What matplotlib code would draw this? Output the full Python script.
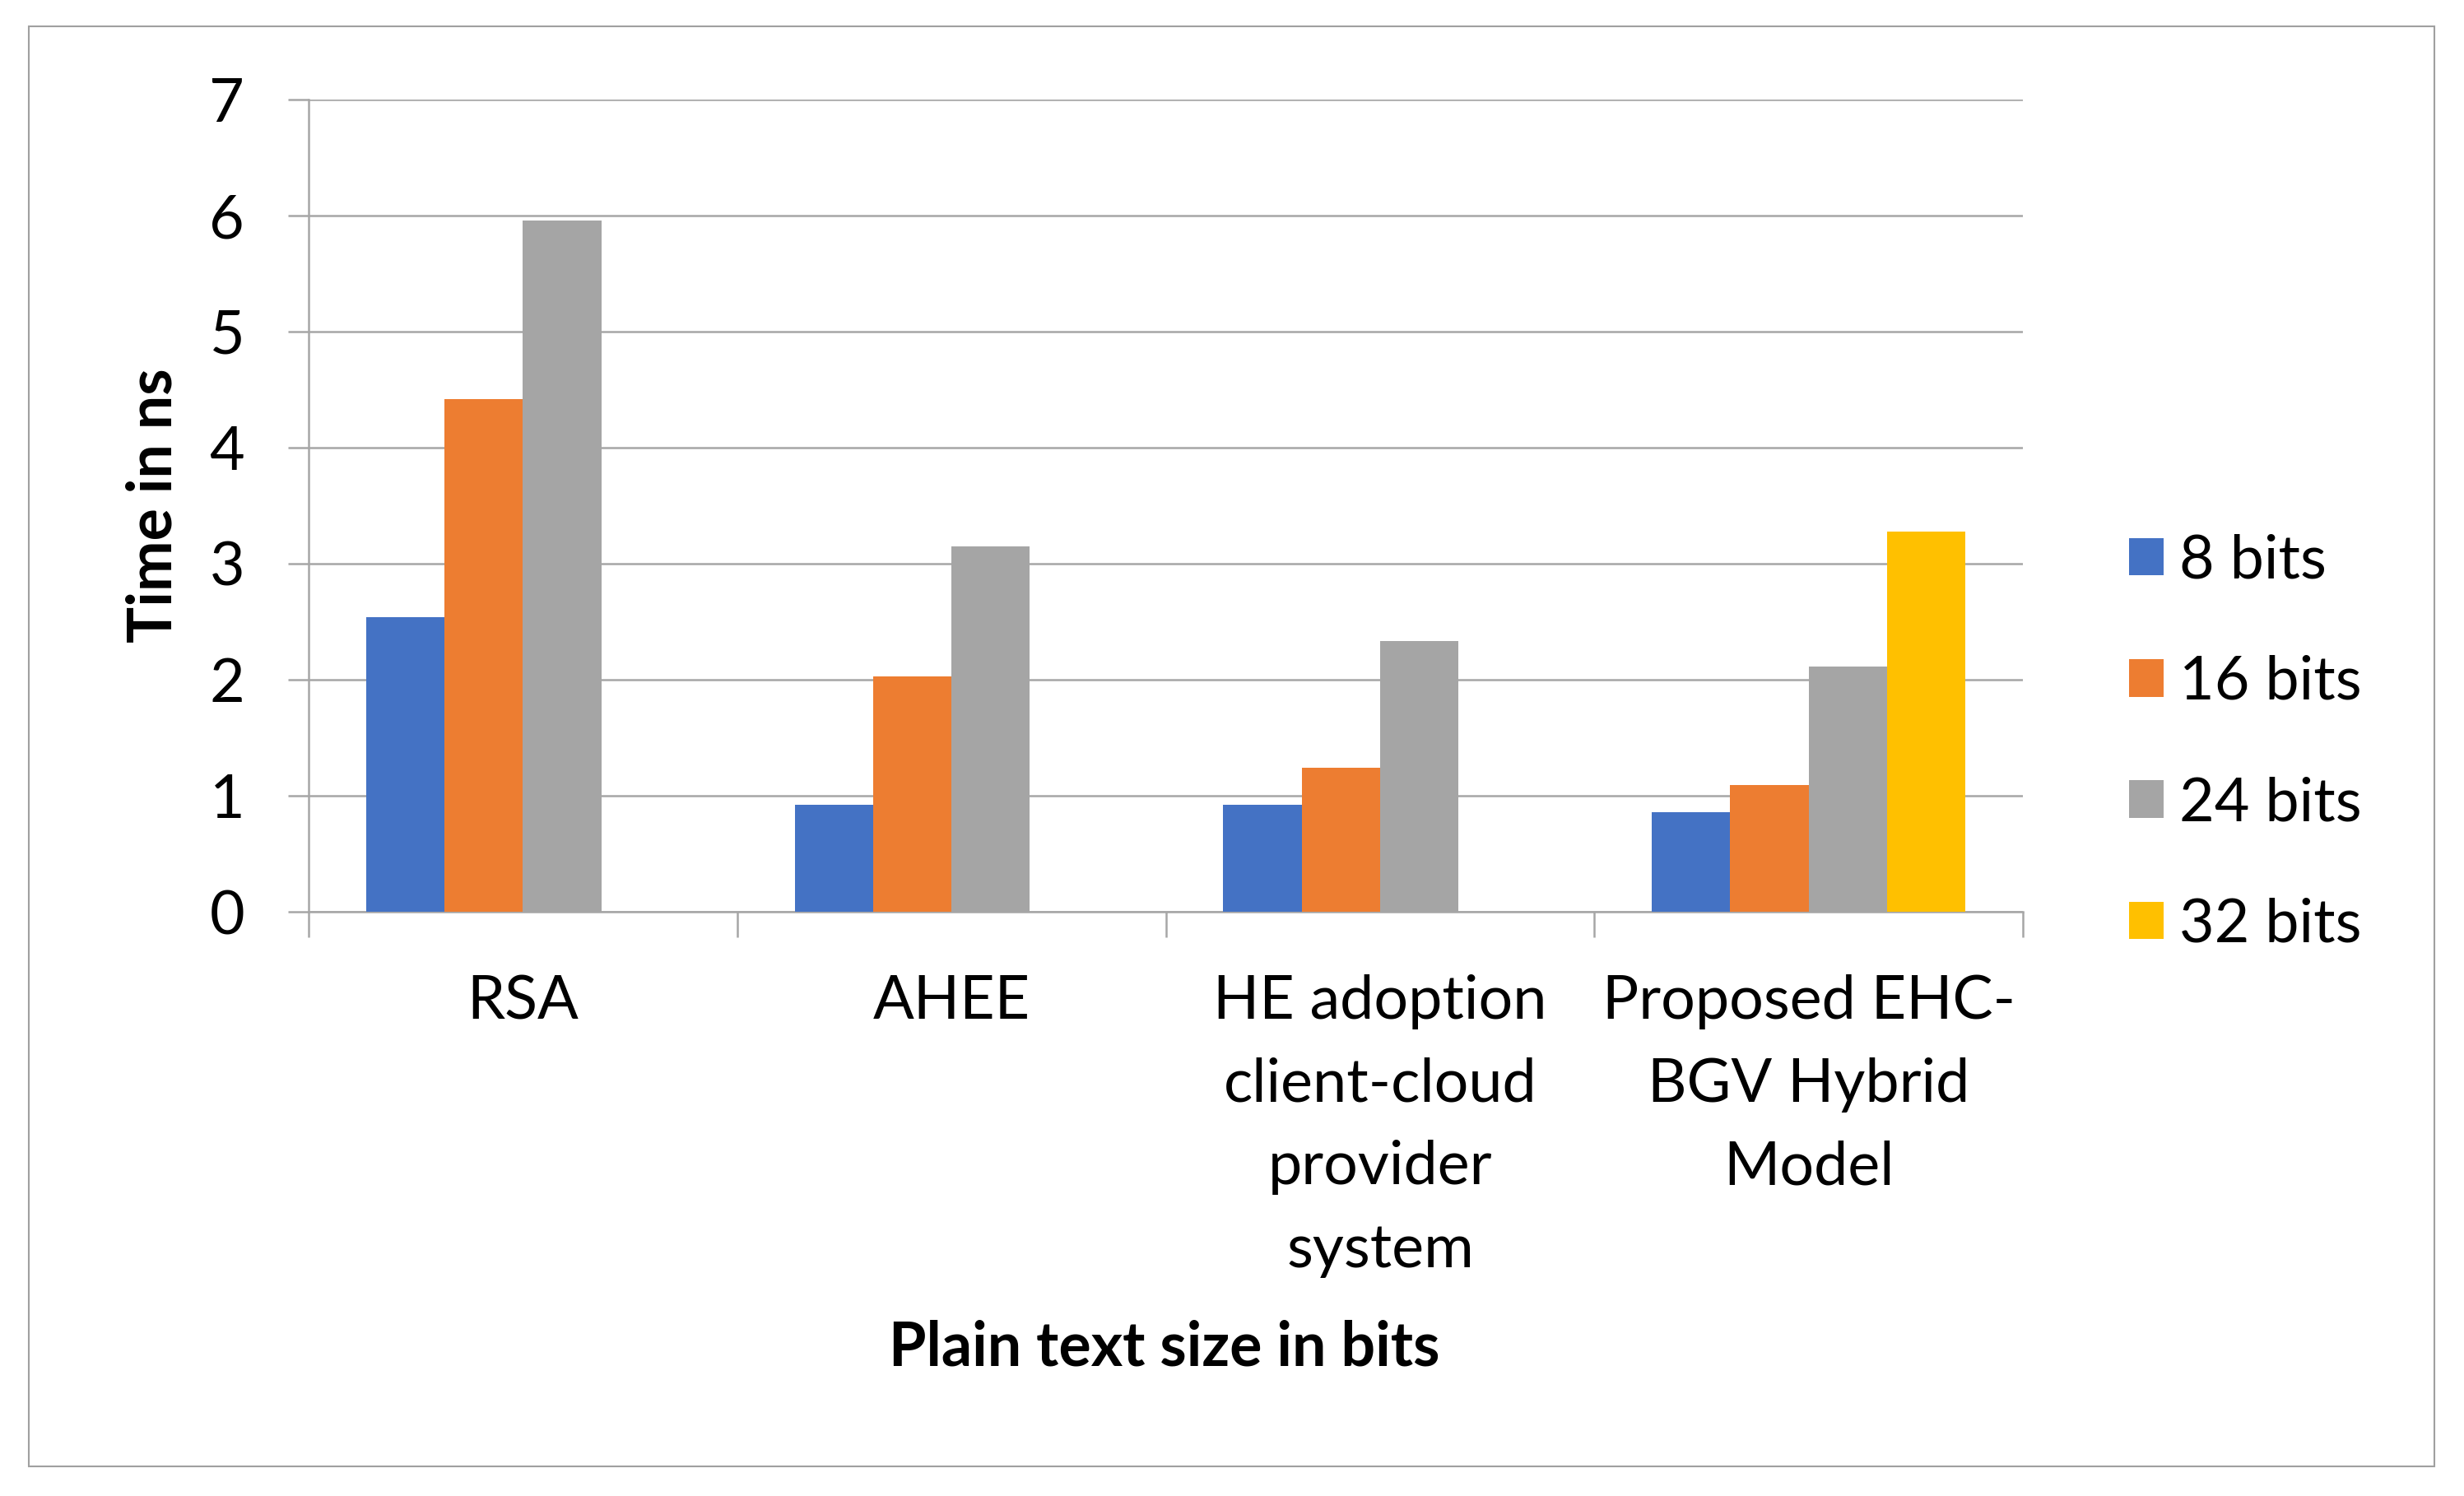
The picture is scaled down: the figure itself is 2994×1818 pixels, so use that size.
import numpy as np
import matplotlib
matplotlib.use("Agg")
import matplotlib.pyplot as plt
import matplotlib.patches as patches

plt.rcParams['font.family'] = ['Lato', 'DejaVu Sans']

# Datos
categories = ["RSA", "AHEE", "HE adoption\nclient-cloud\nprovider\nsystem",
              "Proposed EHC-\nBGV Hybrid\nModel"]
series_names = ["8 bits", "16 bits", "24 bits", "32 bits"]
bits_8 = [2.54, 0.92, 0.92, 0.86]
bits_16 = [4.42, 2.03, 1.24, 1.09]
bits_24 = [5.96, 3.15, 2.33, 2.11]
bits_32 = [np.nan, np.nan, np.nan, 3.28]
colors = ["#4472C4", "#ED7D31", "#A5A5A5", "#FFC000"]

W, H = 2994, 1818
fig = plt.figure(figsize=(W / 100, H / 100), dpi=100)
ax = fig.add_axes([375 / W, 1 - 1108 / H, (2458 - 375) / W, (1108 - 121) / H])

fs = 53
grid_c = "#A6A6A6"
x = np.arange(len(categories))
w = 0.183
for i, (vals, name) in enumerate(zip([bits_8, bits_16, bits_24, bits_32], series_names)):
    ax.bar(x + (i - 1.5) * w, vals, width=w, color=colors[i], label=name, zorder=3)

ax.set_xlim(-0.5, 3.5)
ax.set_ylim(0, 7)
ax.set_yticks(range(0, 8))
ax.yaxis.grid(True, color=grid_c, linewidth=1.8, zorder=0)
for s in ["top", "right"]:
    ax.spines[s].set_visible(False)
for s in ["left", "bottom"]:
    ax.spines[s].set_color(grid_c)
    ax.spines[s].set_linewidth(1.8)

ax.tick_params(axis='y', length=18, width=1.8, color=grid_c, pad=38, labelsize=fs)
ax.set_xticks(x)
ax.set_xticklabels(categories, fontsize=fs, linespacing=1.62)
ax.tick_params(axis='x', which='major', length=0, pad=55)
ax.set_xticks(np.arange(-0.5, 4, 1), minor=True)
ax.tick_params(axis='x', which='minor', length=22, width=1.8, color=grid_c)

fig.text(187 / W, 1 - 614 / H, "Time in ns", rotation=90, ha='center', va='center',
         fontsize=fs, fontweight='bold')
fig.text(1415 / W, 1 - 1659 / H, "Plain text size in bits", ha='center', va='baseline',
         fontsize=fs, fontweight='bold')

leg = ax.legend(loc='center left', bbox_to_anchor=(2587 / W, 1 - 903 / H),
                bbox_transform=fig.transFigure, frameon=False, fontsize=fs,
                handlelength=0.57, handleheight=0.57, handletextpad=0.26,
                labelspacing=1.09, borderpad=0, borderaxespad=0)

# Marco exterior
fig.patches.append(patches.Rectangle((35 / W, 1 - 1782 / H), (2958 - 35) / W, (1782 - 32) / H,
                                     transform=fig.transFigure, fill=False,
                                     edgecolor="#A0A0A0", linewidth=1.5))

fig.savefig("out.png", dpi=100)
